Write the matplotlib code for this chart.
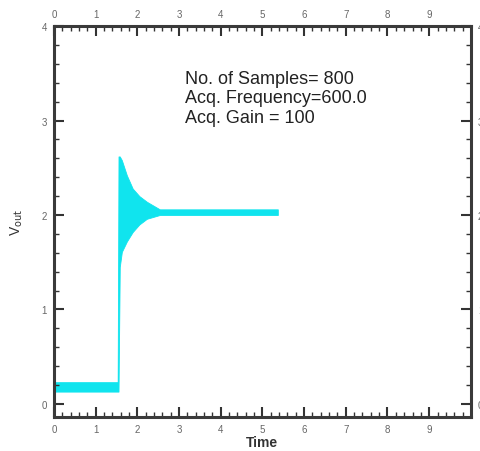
import numpy as np
import matplotlib.pyplot as plt
from matplotlib.ticker import MultipleLocator

t_env = [0.0, 1.53, 1.55, 1.58, 1.63, 1.75, 1.89, 2.05, 2.23, 2.54, 3.5, 4.5, 5.37]
v_upper = [0.23, 0.23, 2.62, 2.62, 2.58, 2.42, 2.28, 2.20, 2.14, 2.06, 2.06, 2.06, 2.06]
v_lower = [0.13, 0.13, 0.13, 1.45, 1.61, 1.72, 1.82, 1.90, 1.96, 2.00, 2.00, 2.00, 2.00]

info_lines = ['No. of Samples= 800', 'Acq. Frequency=600.0', 'Acq. Gain = 100']

x_ticks = np.arange(0, 10, 1)
y_ticks = np.arange(0, 5, 1)

plt.rcParams['font.family'] = ['Liberation Sans', 'DejaVu Sans']

fig = plt.figure(figsize=(4.81, 4.52), dpi=100)
ax = fig.add_axes([0.112, 0.075, 0.867, 0.865])

ax.fill_between(t_env, v_lower, v_upper, color='#10e4ee', linewidth=0.6,
                edgecolor='#10e4ee')

ax.set_xlim(0, 10)
ax.set_ylim(-0.14, 4)
ax.set_xticks(x_ticks)
ax.set_yticks(y_ticks)
ax.xaxis.set_minor_locator(MultipleLocator(0.2))
ax.yaxis.set_minor_locator(MultipleLocator(0.2))

ax.tick_params(which='both', direction='in', top=True, right=True,
               labeltop=True, labelright=True, colors='#333333',
               labelcolor='#666666', labelsize=7, width=1.5)
ax.tick_params(which='major', length=7, pad=5)
ax.tick_params(which='minor', length=3.5, width=1)

for sp in ax.spines.values():
    sp.set_linewidth(2.2)
    sp.set_color('#3a3a3a')

ax.set_xlabel('Time', fontsize=10, fontweight='bold', color='#333333', labelpad=1)
ax.set_ylabel(r'V$_{\rm out}$', fontsize=10, color='#333333', labelpad=12)

ax.text(3.14, 3.54, '\n'.join(info_lines), fontsize=13, color='#222222',
        va='top', ha='left', linespacing=1.2)

fig.savefig('out.png', dpi=100)
